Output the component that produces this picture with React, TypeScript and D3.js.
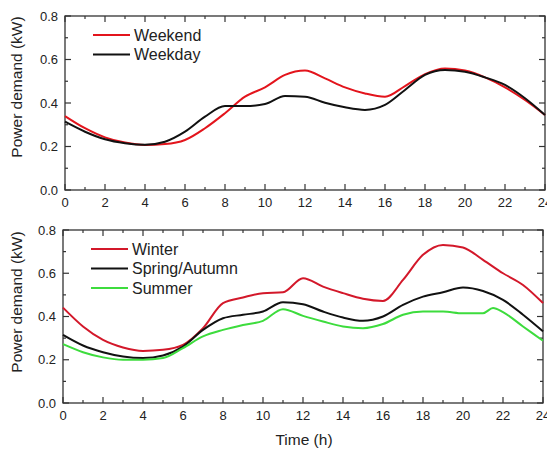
import React, { useEffect, useRef } from "react"
import * as d3 from "d3"

// hours of the day (x values)
const hours = [0, 1, 2, 3, 4, 5, 6, 7, 8, 9, 10, 11, 12, 13, 14, 15, 16, 17, 18, 19, 20, 21, 22, 23, 24]
const summerHours = [0, 1, 2, 3, 4, 5, 6, 7, 8, 9, 10, 11, 12, 13, 14, 15, 16, 17, 18, 19, 20, 21, 21.5, 22, 23, 24]

// top panel
const weekend = [0.34, 0.284, 0.242, 0.218, 0.207, 0.211, 0.23, 0.284, 0.353, 0.429, 0.472, 0.529, 0.549, 0.513, 0.472, 0.444, 0.429, 0.478, 0.533, 0.559, 0.549, 0.518, 0.472, 0.414, 0.345]
const weekday = [0.314, 0.268, 0.233, 0.215, 0.208, 0.222, 0.268, 0.337, 0.386, 0.386, 0.395, 0.432, 0.429, 0.401, 0.38, 0.368, 0.391, 0.46, 0.529, 0.552, 0.544, 0.518, 0.483, 0.422, 0.345]

// bottom panel
const winter = [0.441, 0.354, 0.292, 0.257, 0.241, 0.246, 0.269, 0.346, 0.462, 0.488, 0.508, 0.512, 0.577, 0.538, 0.508, 0.482, 0.472, 0.569, 0.685, 0.731, 0.719, 0.662, 0.6, 0.546, 0.462]
const springAutumn = [0.315, 0.266, 0.235, 0.215, 0.208, 0.22, 0.261, 0.338, 0.392, 0.408, 0.423, 0.466, 0.457, 0.423, 0.395, 0.38, 0.4, 0.454, 0.492, 0.512, 0.534, 0.518, 0.477, 0.408, 0.331]
const summer = [0.272, 0.235, 0.211, 0.2, 0.2, 0.208, 0.254, 0.308, 0.338, 0.361, 0.38, 0.434, 0.403, 0.377, 0.354, 0.346, 0.365, 0.408, 0.423, 0.423, 0.415, 0.415, 0.439, 0.42, 0.354, 0.288]

const xTicks = [0, 2, 4, 6, 8, 10, 12, 14, 16, 18, 20, 22, 24]
const yTicks = [0, 0.2, 0.4, 0.6, 0.8]

const FONT = "'Liberation Sans', Arial, sans-serif"

function drawPanel(svg, box, series, labelY) {
    const x = d3.scaleLinear().domain([0, 24]).range([box.left, box.right])
    const y = d3.scaleLinear().domain([0, 0.8]).range([box.bottom, box.top])
    const g = svg.append("g")

    // minor ticks
    const minorX = d3.range(0, 25, 1)
    const minorY = d3.range(0, 0.81, 0.1)
    const tickColor = "#333"
    minorX.forEach(h => {
        const len = h % 2 === 0 ? 6 : 3
        g.append("line").attr("x1", x(h)).attr("x2", x(h))
            .attr("y1", box.bottom).attr("y2", box.bottom - len)
            .attr("stroke", tickColor).attr("stroke-width", 1.2)
        g.append("line").attr("x1", x(h)).attr("x2", x(h))
            .attr("y1", box.top).attr("y2", box.top + len)
            .attr("stroke", tickColor).attr("stroke-width", 1.2)
    })
    minorY.forEach((v, i) => {
        const len = i % 2 === 0 ? 6 : 3
        g.append("line").attr("x1", box.left).attr("x2", box.left + len)
            .attr("y1", y(v)).attr("y2", y(v))
            .attr("stroke", tickColor).attr("stroke-width", 1.2)
        g.append("line").attr("x1", box.right).attr("x2", box.right - len)
            .attr("y1", y(v)).attr("y2", y(v))
            .attr("stroke", tickColor).attr("stroke-width", 1.2)
    })

    g.append("rect")
        .attr("x", box.left).attr("y", box.top)
        .attr("width", box.right - box.left).attr("height", box.bottom - box.top)
        .attr("fill", "none").attr("stroke", "#333").attr("stroke-width", 1.3)

    g.selectAll("text.xt").data(xTicks).enter().append("text")
        .attr("x", d => x(d)).attr("y", box.bottom + 17)
        .attr("text-anchor", "middle")
        .attr("font-size", 13).attr("font-family", FONT).attr("fill", "#222")
        .text(d => d)
    g.selectAll("text.yt").data(yTicks).enter().append("text")
        .attr("x", box.left - 7).attr("y", d => y(d)).attr("dy", "0.36em")
        .attr("text-anchor", "end")
        .attr("font-size", 13).attr("font-family", FONT).attr("fill", "#222")
        .text(d => d3.format(".1f")(d))

    g.append("text")
        .attr("transform", `translate(22,${labelY}) rotate(-90)`)
        .attr("text-anchor", "middle")
        .attr("font-size", 15.5).attr("font-family", FONT).attr("fill", "#222")
        .text("Power demand (kW)")

    const line = d3.line().curve(d3.curveMonotoneX)
    series.forEach((s, i) => {
        g.append("path")
            .attr("d", line(s.hours.map((h, k) => [x(h), y(s.values[k])])))
            .attr("fill", "none").attr("stroke", s.color).attr("stroke-width", 2)
        const ly = box.top + 19 + i * 19.5
        g.append("line").attr("x1", box.left + 28).attr("x2", box.left + 65)
            .attr("y1", ly).attr("y2", ly)
            .attr("stroke", s.color).attr("stroke-width", 2)
        g.append("text").attr("x", box.left + 69).attr("y", ly).attr("dy", "0.36em")
            .attr("font-size", 16).attr("font-family", FONT).attr("fill", "#222")
            .text(s.name)
    })
}

export default function App() {
    const ref = useRef(null)
    useEffect(() => {
        const svg = d3.select(ref.current)
        svg.selectAll("*").remove()
        drawPanel(svg, { left: 65, right: 545, top: 16, bottom: 190 }, [
            { name: "Weekend", hours, values: weekend, color: "#e3141c" },
            { name: "Weekday", hours, values: weekday, color: "#111" },
        ], 87)
        drawPanel(svg, { left: 63, right: 543, top: 230, bottom: 403 }, [
            { name: "Winter", hours, values: winter, color: "#d3182a" },
            { name: "Spring/Autumn", hours, values: springAutumn, color: "#111" },
            { name: "Summer", hours: summerHours, values: summer, color: "#3ddc3d" },
        ], 302)
        svg.append("text")
            .attr("x", 304).attr("y", 445)
            .attr("text-anchor", "middle")
            .attr("font-size", 15.5).attr("font-family", FONT).attr("fill", "#222")
            .text("Time (h)")
    }, [])
    return (
        <svg ref={ref} width={547} height={449}
            style={{ position: "absolute", left: 0, top: 0, background: "#fff" }} />
    )
}
